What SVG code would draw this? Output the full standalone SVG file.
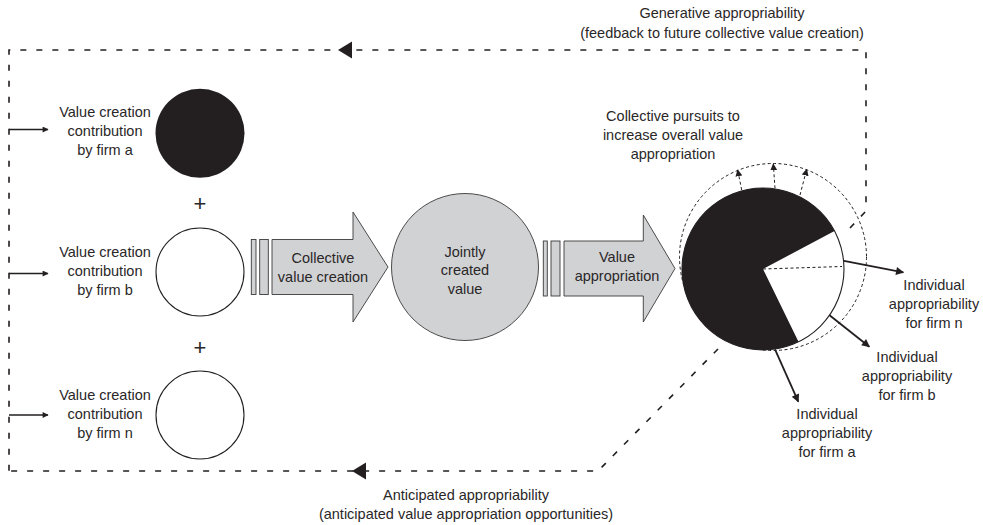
<svg xmlns="http://www.w3.org/2000/svg" width="983" height="525" viewBox="0 0 983 525">
<style>
text{font-family:"Liberation Sans",Arial,sans-serif;font-size:14.5px;fill:#2a2728;text-anchor:middle}
.plus{font-size:22px}
.loop{fill:none;stroke:#231f20;stroke-width:1.6;stroke-dasharray:6 10}
.fine{fill:none;stroke:#231f20;stroke-width:1;stroke-dasharray:3 2.5}
.solid{fill:none;stroke:#231f20;stroke-width:1.4}
.thick{fill:none;stroke:#231f20;stroke-width:1.8}
.gray{fill:#d1d2d4;stroke:#3a3a3a;stroke-width:0.9}
.circ{fill:#fff;stroke:#231f20;stroke-width:1.1}
.blk{fill:#231f20}
</style>
<defs>
<marker id="ahs" viewBox="0 0 10 10" refX="9" refY="5" markerWidth="9" markerHeight="6" markerUnits="userSpaceOnUse" orient="auto"><path d="M0,0 L10,5 L0,10 z" fill="#231f20"/></marker>
<marker id="ahm" viewBox="0 0 10 10" refX="9" refY="5" markerWidth="11" markerHeight="8" markerUnits="userSpaceOnUse" orient="auto"><path d="M0,0 L10,5 L0,10 z" fill="#231f20"/></marker>
<marker id="aht" viewBox="0 0 10 10" refX="9" refY="5" markerWidth="7" markerHeight="7" markerUnits="userSpaceOnUse" orient="auto"><path d="M0,0 L10,5 L0,10 z" fill="#231f20"/></marker>
</defs>

<g id="connectors">
<path class="loop" d="M850,228 L866,211 L866,50 L9,50 L9,471"/>
<path class="loop" d="M718,349 L598,471 L9,471"/>
<polygon class="blk" points="338,50 352,41.5 352,58.5"/>
<polygon class="blk" points="352,471 366,462.5 366,479.5"/>
<line class="solid" x1="9" y1="129.5" x2="48" y2="129.5" marker-end="url(#ahs)"/>
<line class="solid" x1="9" y1="273.5" x2="48" y2="273.5" marker-end="url(#ahs)"/>
<line class="solid" x1="9" y1="415" x2="48" y2="415" marker-end="url(#ahs)"/>
<line class="thick" x1="842.7" y1="260.7" x2="903.3" y2="272.3" marker-end="url(#ahm)"/>
<line class="thick" x1="828.3" y1="314.3" x2="869.3" y2="346.7" marker-end="url(#ahm)"/>
<line class="thick" x1="775" y1="349.3" x2="798.3" y2="401.7" marker-end="url(#ahm)"/>
</g>

<g id="loop-labels">
<text x="722" y="17.5">Generative appropriability</text>
<text x="722" y="37.5">(feedback to future collective value creation)</text>
<text x="466" y="500">Anticipated appropriability</text>
<text x="466" y="519">(anticipated value appropriation opportunities)</text>
</g>

<g id="firm-a">
<circle cx="200" cy="133.3" r="44.5" class="blk"/>
<text x="105" y="116.5">Value creation</text>
<text x="105" y="135.5">contribution</text>
<text x="105" y="154.5">by firm a</text>
</g>
<text class="plus" x="200" y="210.5">+</text>
<g id="firm-b">
<circle cx="200" cy="272" r="44" class="circ"/>
<text x="105" y="256.5">Value creation</text>
<text x="105" y="275.5">contribution</text>
<text x="105" y="294.5">by firm b</text>
</g>
<text class="plus" x="200" y="354.5">+</text>
<g id="firm-n">
<circle cx="200" cy="415" r="44" class="circ"/>
<text x="105" y="400">Value creation</text>
<text x="105" y="419">contribution</text>
<text x="105" y="438">by firm n</text>
</g>

<g id="collective-arrow">
<rect class="gray" x="251.3" y="239.5" width="4.7" height="55"/>
<rect class="gray" x="259.7" y="239.5" width="8.6" height="55"/>
<polygon class="gray" points="272,239.5 353,239.5 353,212 388,267 353,322 353,294.5 272,294.5"/>
<text x="323" y="263">Collective</text>
<text x="323" y="282">value creation</text>
</g>

<g id="jointly">
<circle class="gray" cx="465" cy="267" r="73.5"/>
<text x="465" y="256.5">Jointly</text>
<text x="465" y="275">created</text>
<text x="465" y="293.5">value</text>
</g>

<g id="appropriation-arrow">
<rect class="gray" x="543.3" y="241" width="4" height="55"/>
<rect class="gray" x="551" y="241" width="9" height="55"/>
<polygon class="gray" points="564,241 643.3,241 643.3,215 675,268.5 643.3,322 643.3,296 564,296"/>
<text x="617" y="261.5">Value</text>
<text x="617" y="281">appropriation</text>
</g>

<g id="pie">
<circle class="fine" cx="773" cy="257" r="93.5"/>
<circle class="circ" cx="763" cy="269" r="81"/>
<path class="blk" d="M763,269 L834.5,231 A81,81 0 1 0 798.5,341.8 Z"/>
<line class="fine" x1="763" y1="269" x2="842" y2="266.5"/>
<line class="fine" x1="741.7" y1="190" x2="737.7" y2="170" marker-end="url(#aht)"/>
<line class="fine" x1="775" y1="188.3" x2="773.3" y2="164" marker-end="url(#aht)"/>
<line class="fine" x1="800" y1="195" x2="806.7" y2="169.3" marker-end="url(#aht)"/>
</g>

<g id="pursuits">
<text x="673" y="121">Collective pursuits to</text>
<text x="673" y="140">increase overall value</text>
<text x="673" y="159">appropriation</text>
</g>

<g id="label-n">
<text x="934" y="290">Individual</text>
<text x="934" y="309">appropriability</text>
<text x="934" y="328">for firm n</text>
</g>
<g id="label-b">
<text x="907" y="361.5">Individual</text>
<text x="907" y="380.5">appropriability</text>
<text x="907" y="399.5">for firm b</text>
</g>
<g id="label-a">
<text x="827" y="419">Individual</text>
<text x="827" y="438">appropriability</text>
<text x="827" y="457">for firm a</text>
</g>
</svg>
